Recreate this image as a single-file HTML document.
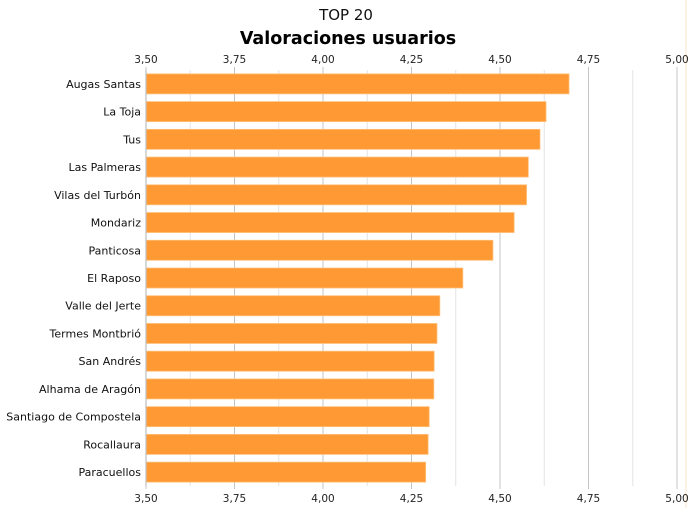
<!DOCTYPE html>
<html><head><meta charset="utf-8"><style>
html,body{margin:0;padding:0;background:#fff;}
svg text{font-family:"DejaVu Sans","Liberation Sans",sans-serif;}
</style></head><body>
<svg width="689" height="508" xmlns="http://www.w3.org/2000/svg">
<text x="346" y="20" text-anchor="middle" font-size="15" fill="#111" font-family="Liberation Sans">TOP 20</text>
<text x="348" y="44" text-anchor="middle" font-size="17.5" font-weight="bold" fill="#000">Valoraciones usuarios</text>
<line x1="686" y1="0" x2="686" y2="508" stroke="#fbe3c8" stroke-width="1"/>
<g id="grid"></g><g id="bars"></g><g id="axes"></g>
</svg>
<script>
const categories=["Augas Santas","La Toja","Tus","Las Palmeras","Vilas del Turbón","Mondariz","Panticosa","El Raposo","Valle del Jerte","Termes Montbrió","San Andrés","Alhama de Aragón","Santiago de Compostela","Rocallaura","Paracuellos"];
const values=[4.695,4.63,4.613,4.58,4.575,4.54,4.48,4.395,4.33,4.322,4.314,4.313,4.30,4.297,4.29];
const ticks=[3.5,3.75,4.0,4.25,4.5,4.75,5.0];
const tickLabels=["3,50","3,75","4,00","4,25","4,50","4,75","5,00"];
const NS="http://www.w3.org/2000/svg";
const x0=146,x1=677,yTop=70,yBot=486,vmin=3.5,vmax=5.0;
const xs=v=>x0+(v-vmin)/(vmax-vmin)*(x1-x0);
const step=(yBot-yTop)/categories.length;
const yc=i=>yTop+step*(i+0.5);
function mk(t,a,p){const e=document.createElementNS(NS,t);for(const k in a)e.setAttribute(k,a[k]);p.appendChild(e);return e;}
const grid=document.getElementById('grid'),bars=document.getElementById('bars'),axes=document.getElementById('axes');
for(let v=vmin+0.125;v<vmax;v+=0.25){
  const l=mk('line',{x1:xs(v),x2:xs(v),y1:yTop,y2:yBot,stroke:'#e4e4e4','stroke-width':1},grid);
  
  
}
ticks.forEach((v,i)=>{
  const l=mk('line',{x1:xs(v),x2:xs(v),y1:yTop-3,y2:yBot+3,stroke:'#c4c4c4','stroke-width':1},grid);
  
  
  const t1=mk('text',{x:xs(v),y:yTop-7,'text-anchor':'middle','font-size':10.5,fill:'#222'},axes);t1.textContent=tickLabels[i];
  
  
  const t2=mk('text',{x:xs(v),y:yBot+16,'text-anchor':'middle','font-size':10.5,fill:'#222'},axes);t2.textContent=tickLabels[i];
  
  
});
const la=mk('line',{x1:x0,x2:x0,y1:yTop,y2:yBot,stroke:'#b0b0b0','stroke-width':1},axes);


categories.forEach((c,i)=>{
  const r=mk('rect',{x:x0+0.5,y:yc(i)-10,width:xs(values[i])-x0-0.5,height:20,fill:'#ff9933',stroke:'#ffc07a','stroke-width':0.8},bars);
  
  
  const t=mk('text',{x:x0-5,y:yc(i)+4,'text-anchor':'end','font-size':11,fill:'#111'},axes);t.textContent=c;
  
  
});
</script>
</body></html>
